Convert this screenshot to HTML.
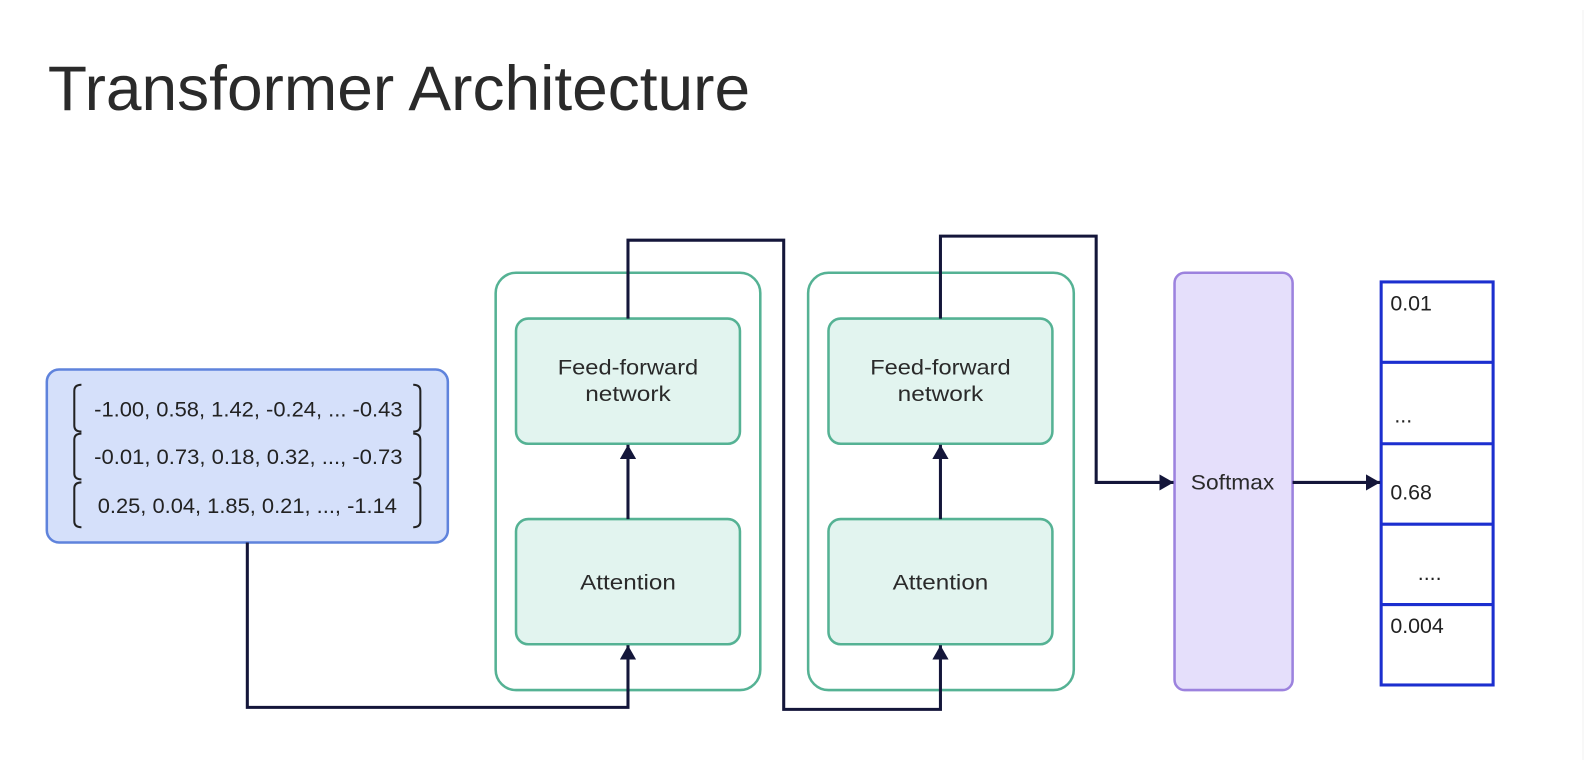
<!DOCTYPE html>
<html><head><meta charset="utf-8"><style>
html,body{margin:0;padding:0;background:#fff;}
svg{display:block;font-family:"Liberation Sans",sans-serif;}
</style></head><body>
<svg width="1596" height="760" viewBox="0 0 1596 760" xmlns="http://www.w3.org/2000/svg">
<defs>
<marker id="au" viewBox="0 0 14 16" markerWidth="14" markerHeight="16" refX="14" refY="8" orient="auto" markerUnits="userSpaceOnUse">
<path d="M0,0 L14,8 L0,16 z" fill="#14163a"/>
</marker>
</defs>
<line x1="1583" y1="10" x2="1583" y2="760" stroke="#f0f0f0" stroke-width="1"/>
<g transform="scale(1.0178)">
<text x="47" y="108" font-size="62" fill="#2a2a2a" textLength="690" lengthAdjust="spacingAndGlyphs">Transformer Architecture</text>

<!-- input box -->
<rect x="46" y="363" width="394" height="170" rx="12" fill="#d5e0fa" stroke="#5f83dc" stroke-width="2.5"/>
<g font-size="20.5" fill="#222" text-anchor="middle">
<text x="244" y="409" textLength="303" lengthAdjust="spacingAndGlyphs">-1.00, 0.58, 1.42, -0.24, ... -0.43</text>
<text x="244" y="456" textLength="303" lengthAdjust="spacingAndGlyphs">-0.01, 0.73, 0.18, 0.32, ..., -0.73</text>
<text x="243" y="504" textLength="294" lengthAdjust="spacingAndGlyphs">0.25, 0.04, 1.85, 0.21, ..., -1.14</text>
</g>
<g fill="none" stroke="#222" stroke-width="2">
<path d="M80,378 Q73,378 73,384 L73,418 Q73,424 80,424"/>
<path d="M80,426 Q73,426 73,432 L73,465 Q73,471 80,471"/>
<path d="M80,474 Q73,474 73,480 L73,512 Q73,518 80,518"/>
<path d="M406,378 Q413,378 413,384 L413,418 Q413,424 406,424"/>
<path d="M406,426 Q413,426 413,432 L413,465 Q413,471 406,471"/>
<path d="M406,474 Q413,474 413,480 L413,512 Q413,518 406,518"/>
</g>

<!-- blocks -->
<g stroke="#55b294" stroke-width="2.5">
<rect x="487" y="268" width="260" height="410" rx="20" fill="#fff"/>
<rect x="794" y="268" width="261" height="410" rx="20" fill="#fff"/>
<rect x="507" y="313" width="220" height="123" rx="12" fill="#e2f4ef"/>
<rect x="507" y="510" width="220" height="123" rx="12" fill="#e2f4ef"/>
<rect x="814" y="313" width="220" height="123" rx="12" fill="#e2f4ef"/>
<rect x="814" y="510" width="220" height="123" rx="12" fill="#e2f4ef"/>
</g>
<g font-size="21" fill="#2a2a2a" text-anchor="middle">
<text x="617" y="368" textLength="138" lengthAdjust="spacingAndGlyphs">Feed-forward</text>
<text x="617" y="394" textLength="84" lengthAdjust="spacingAndGlyphs">network</text>
<text x="617" y="579" textLength="94" lengthAdjust="spacingAndGlyphs">Attention</text>
<text x="924" y="368" textLength="138" lengthAdjust="spacingAndGlyphs">Feed-forward</text>
<text x="924" y="394" textLength="84" lengthAdjust="spacingAndGlyphs">network</text>
<text x="924" y="579" textLength="94" lengthAdjust="spacingAndGlyphs">Attention</text>
</g>

<!-- softmax -->
<rect x="1154" y="268" width="116" height="410" rx="10" fill="#e5dffb" stroke="#9c82de" stroke-width="2.5"/>
<text x="1211" y="481" font-size="21" fill="#2a2a2a" text-anchor="middle" textLength="82" lengthAdjust="spacingAndGlyphs">Softmax</text>

<!-- output -->
<g fill="none" stroke="#1c2fcf" stroke-width="3">
<rect x="1357" y="277" width="110" height="396"/>
<line x1="1357" y1="356" x2="1467" y2="356"/>
<line x1="1357" y1="436" x2="1467" y2="436"/>
<line x1="1357" y1="515" x2="1467" y2="515"/>
<line x1="1357" y1="594" x2="1467" y2="594"/>
</g>
<g font-size="21" fill="#222">
<text x="1366" y="305">0.01</text>
<text x="1370" y="415">...</text>
<text x="1366" y="491">0.68</text>
<text x="1393" y="570">....</text>
<text x="1366" y="622">0.004</text>
</g>

<!-- connectors -->
<g fill="none" stroke="#14163a" stroke-width="3">
<polyline points="243,533 243,695 617,695 617,634" marker-end="url(#au)"/>
<line x1="617" y1="510" x2="617" y2="437" marker-end="url(#au)"/>
<polyline points="617,313 617,236 770,236 770,697 924,697 924,634" marker-end="url(#au)"/>
<line x1="924" y1="510" x2="924" y2="437" marker-end="url(#au)"/>
<polyline points="924,313 924,232 1077,232 1077,474 1153,474" marker-end="url(#au)"/>
<line x1="1270" y1="474" x2="1356" y2="474" marker-end="url(#au)"/>
</g>
</g>
</svg>
</body></html>
